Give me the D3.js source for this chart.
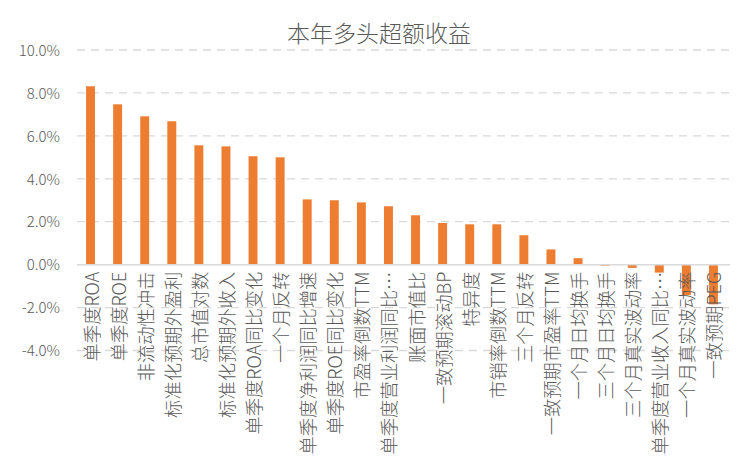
<!DOCTYPE html>
<html><head><meta charset="utf-8">
<script src="https://cdn.jsdelivr.net/npm/d3@7"></script>
<style>
html,body{margin:0;padding:0;background:#fff;}
svg text{font-family:"Noto Sans CJK SC","Microsoft YaHei",sans-serif;fill:#595959;font-weight:300;}
</style></head>
<body>
<svg id="chart" width="750" height="463"></svg>
<script>
const title = "本年多头超额收益";
const categories = ["单季度ROA","单季度ROE","非流动性冲击","标准化预期外盈利","总市值对数","标准化预期外收入","单季度ROA同比变化","一个月反转","单季度净利润同比增速","单季度ROE同比变化","市盈率倒数TTM","单季度营业利润同比…","账面市值比","一致预期滚动BP","特异度","市销率倒数TTM","三个月反转","一致预期市盈率TTM","一个月日均换手","三个月日均换手","三个月真实波动率","单季度营业收入同比…","一个月真实波动率","一致预期PEG"];
const values = [8.31,7.47,6.91,6.68,5.56,5.51,5.05,5.00,3.04,3.00,2.90,2.72,2.30,1.94,1.88,1.88,1.37,0.71,0.30,-0.05,-0.15,-0.37,-1.42,-1.85];
const yTicks = [-4,-2,0,2,4,6,8,10];

const svg = d3.select("#chart");
const pLeft = 77, pRight = 727, pTop = 50, pBottom = 350.5;

const x = d3.scaleBand().domain(categories).range([pLeft, pRight]).paddingInner(0.67).paddingOuter(0.335);
const y = d3.scaleLinear().domain([-4, 10]).range([pBottom, pTop]);

// gridlines
svg.append("g").selectAll("line").data(yTicks.filter(d => d !== 0)).join("line")
  .attr("x1", pLeft).attr("x2", pRight + 3)
  .attr("y1", d => y(d)).attr("y2", d => y(d))
  .attr("stroke", "#D9D9D9").attr("stroke-width", 1.3).attr("stroke-dasharray", "8,6");

// y axis labels
const yAxis = d3.axisLeft(y).tickValues(yTicks).tickSize(0).tickPadding(0)
  .tickFormat(d => d.toFixed(1) + "%");
const ya = svg.append("g").attr("transform", `translate(60,0)`).call(yAxis);
ya.select(".domain").remove();
ya.selectAll("text").attr("font-size", 15).style("font-family", '"Noto Sans CJK SC",sans-serif').style("font-weight", 300).attr("fill", "#595959").attr("dy", "0.35em");

// bars
svg.append("g").selectAll("rect").data(values).join("rect")
  .attr("x", (d, i) => x(categories[i]))
  .attr("width", x.bandwidth())
  .attr("y", d => y(Math.max(0, d)))
  .attr("height", d => Math.abs(y(d) - y(0)))
  .attr("fill", "#ED7D31");

// zero axis line
svg.append("line").attr("x1", pLeft).attr("x2", pRight + 3)
  .attr("y1", y(0)).attr("y2", y(0))
  .attr("stroke", "#D9D9D9").attr("stroke-width", 1.5);

// category labels (rotated)
svg.append("g").selectAll("text").data(categories).join("text")
  .attr("transform", d => `translate(${x(d) + x.bandwidth() / 2},${y(0) + 7}) rotate(-90)`)
  .attr("text-anchor", "end")
  .attr("dominant-baseline", "central")
  .attr("font-size", 18.3)
  .text(d => d);

// title
svg.append("text").attr("x", 379).attr("y", 42).attr("text-anchor", "middle")
  .attr("font-size", 23).text(title);
</script>
</body></html>
